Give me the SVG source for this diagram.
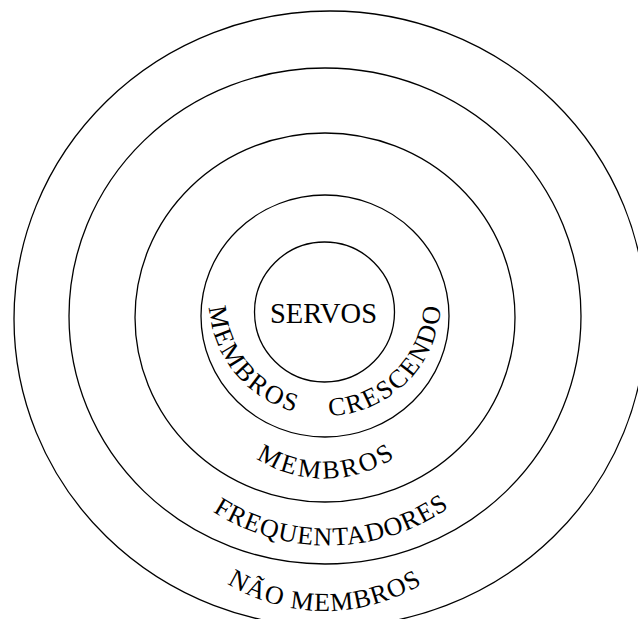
<svg xmlns="http://www.w3.org/2000/svg" xmlns:xlink="http://www.w3.org/1999/xlink" width="638" height="619" viewBox="0 0 638 619">
  <style>
    .ring { fill: none; stroke: #000; stroke-width: 1.3; }
    .lbl { font-family: "Liberation Serif", "Times New Roman", serif; font-size: 26px; fill: #000; }
  </style>
  <defs>
    <path id="pInner" d="M 224.54,242 A 116 116 0 1 0 425.46,242"/>
    <path id="pMembros" d="M 198.5,352 A 126.5 126.5 0 0 0 451.5,352"/>
    <path id="pFreq" d="M 115.5,333 A 212.5 212.5 0 0 0 540.5,333"/>
    <path id="pNao" d="M 136,422 A 189 189 0 0 0 514,422"/>
  </defs>
  <rect width="638" height="619" fill="#fff"/>
  <g id="nao-membros">
    <ellipse class="ring" cx="330" cy="319" rx="316" ry="308"/>
    <text class="lbl" letter-spacing="1.2"><textPath xlink:href="#pNao" href="#pNao" startOffset="50%" text-anchor="middle">NÃO MEMBROS</textPath></text>
  </g>
  <g id="frequentadores">
    <ellipse class="ring" cx="325" cy="316" rx="256" ry="248"/>
    <text class="lbl" letter-spacing="1"><textPath xlink:href="#pFreq" href="#pFreq" startOffset="50.6%" text-anchor="middle">FREQUENTADORES</textPath></text>
  </g>
  <g id="membros">
    <ellipse class="ring" cx="325" cy="317.5" rx="190" ry="184.5"/>
    <text class="lbl" letter-spacing="2.8"><textPath xlink:href="#pMembros" href="#pMembros" startOffset="50.5%" text-anchor="middle">MEMBROS</textPath></text>
  </g>
  <g id="membros-crescendo">
    <ellipse class="ring" cx="325" cy="316" rx="124" ry="121"/>
    <text class="lbl" letter-spacing="2.3"><textPath xlink:href="#pInner" href="#pInner" startOffset="68">MEMBROS</textPath></text>
    <text class="lbl" letter-spacing="2"><textPath xlink:href="#pInner" href="#pInner" startOffset="247">CRESCENDO</textPath></text>
  </g>
  <g id="servos">
    <circle class="ring" cx="324.5" cy="312" r="70"/>
    <text x="323.5" y="323" text-anchor="middle" font-family="Liberation Serif, Times New Roman, serif" font-size="28.5">SERVOS</text>
  </g>
</svg>
